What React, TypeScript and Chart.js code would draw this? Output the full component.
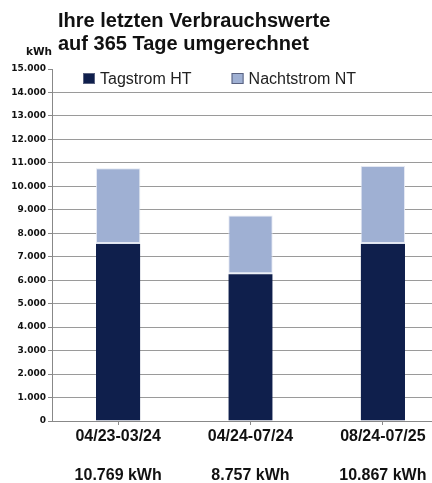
import React, { useEffect, useRef } from "react";
import { Chart, registerables } from "chart.js";

Chart.register(...registerables);

// ---- data ----
const titleLines = ["Ihre letzten Verbrauchswerte", "auf 365 Tage umgerechnet"];
const unitLabel = "kWh";
const periods = ["04/23-03/24", "04/24-07/24", "08/24-07/25"];
const totals = ["10.769 kWh", "8.757 kWh", "10.867 kWh"];
const seriesNames = ["Tagstrom HT", "Nachtstrom NT"];
const tagstromHT = [7580, 6300, 7580];
const nachtstromNT = [3189, 2457, 3287];
const yMin = 0;
const yMax = 15000;
const yStep = 1000;

const HT_COLOR = "#0f1f4c";
const NT_COLOR = "#9fb0d3";

const fmt = (v: number) => String(Math.round(v)).replace(/\B(?=(\d{3})+(?!\d))/g, ".");

const overlayPlugin = {
  id: "overlay",
  afterDraw(chart: any) {
    const ctx = chart.ctx as CanvasRenderingContext2D;
    const area = chart.chartArea;
    ctx.save();
    // title
    ctx.fillStyle = "#111";
    ctx.textAlign = "left";
    ctx.textBaseline = "alphabetic";
    ctx.font = 'bold 20px "Liberation Sans", Arial, sans-serif';
    ctx.fillText(titleLines[0], 58, 27);
    ctx.fillText(titleLines[1], 58, 49.5);
    // unit label
    ctx.font = 'bold 10.5px "DejaVu Sans", sans-serif';
    ctx.textAlign = "right";
    ctx.fillText(unitLabel, 52, 55);
    // legend
    ctx.textAlign = "left";
    ctx.font = '16px "Liberation Sans", Arial, sans-serif';
    let x = area.left + 31;
    const boxTop = 73;
    chart.data.datasets.forEach((ds: any) => {
      ctx.fillStyle = ds.backgroundColor;
      ctx.fillRect(x, boxTop, 12, 11);
      ctx.strokeStyle = "#5a6280";
      ctx.lineWidth = 1;
      ctx.strokeRect(x + 0.5, boxTop + 0.5, 11, 10);
      ctx.fillStyle = "#222";
      ctx.fillText(ds.label, x + 17, 84);
      x += 17 + ctx.measureText(ds.label).width + 40;
    });
    ctx.restore();
  },
};

export default function App() {
  const canvasRef = useRef<HTMLCanvasElement | null>(null);

  useEffect(() => {
    if (!canvasRef.current) return;
    const chart = new Chart(canvasRef.current, {
      type: "bar",
      data: {
        labels: periods.map((p, i) => [p, "", totals[i]]),
        datasets: [
          {
            label: seriesNames[0],
            data: tagstromHT,
            backgroundColor: HT_COLOR,
            borderColor: "rgba(220,226,238,0.9)",
            borderWidth: { top: 1, left: 0, right: 0, bottom: 0 },
            borderSkipped: false,
            categoryPercentage: 1,
            barPercentage: 0.335,
          },
          {
            label: seriesNames[1],
            data: nachtstromNT,
            backgroundColor: NT_COLOR,
            borderColor: "rgba(225,230,242,0.9)",
            borderWidth: 1,
            borderSkipped: false,
            categoryPercentage: 1,
            barPercentage: 0.335,
          },
        ] as any,
      },
      options: {
        responsive: false,
        animation: false,
        devicePixelRatio: 1,
        layout: { padding: { left: 0, right: 3, top: 69, bottom: 0 } },
        plugins: {
          legend: { display: false },
          title: { display: false },
          tooltip: { enabled: false },
        },
        scales: {
          x: {
            stacked: true,
            offset: true,
            grid: {
              display: true,
              drawOnChartArea: false,
              offset: false,
              tickLength: 4,
              tickColor: "#888",
            },
            border: { display: true, color: "#888" },
            ticks: {
              autoSkip: false,
              maxRotation: 0,
              minRotation: 0,
              padding: 2,
              color: "#111",
              font: { family: '"Liberation Sans", Arial, sans-serif', size: 16, weight: "bold", lineHeight: 1.22 },
            },
            afterFit: (scale: any) => {
              scale.height = 62;
            },
          } as any,
          y: {
            stacked: true,
            min: yMin,
            max: yMax,
            grid: {
              color: (c: any) => (c.tick && c.tick.value === yMax ? "rgba(0,0,0,0)" : "#9a9a9a"),
              tickColor: "#888",
              tickLength: 4,
            },
            border: { display: true, color: "#888" },
            ticks: {
              stepSize: yStep,
              padding: 2,
              color: "#111",
              font: { family: '"DejaVu Sans", sans-serif', size: 9, weight: "bold" },
              callback: (v: any) => fmt(Number(v)),
            },
            afterFit: (scale: any) => {
              scale.width = 52;
            },
          } as any,
        },
      },
      plugins: [overlayPlugin],
    });
    return () => chart.destroy();
  }, []);

  return (
    <div
      style={{
        position: "absolute",
        left: 0,
        top: 0,
        width: 432,
        height: 483,
        overflow: "hidden",
        background: "#fff",
      }}
    >
      <canvas ref={canvasRef} width={452} height={483} style={{ display: "block", width: 452, height: 483 }} />
    </div>
  );
}
